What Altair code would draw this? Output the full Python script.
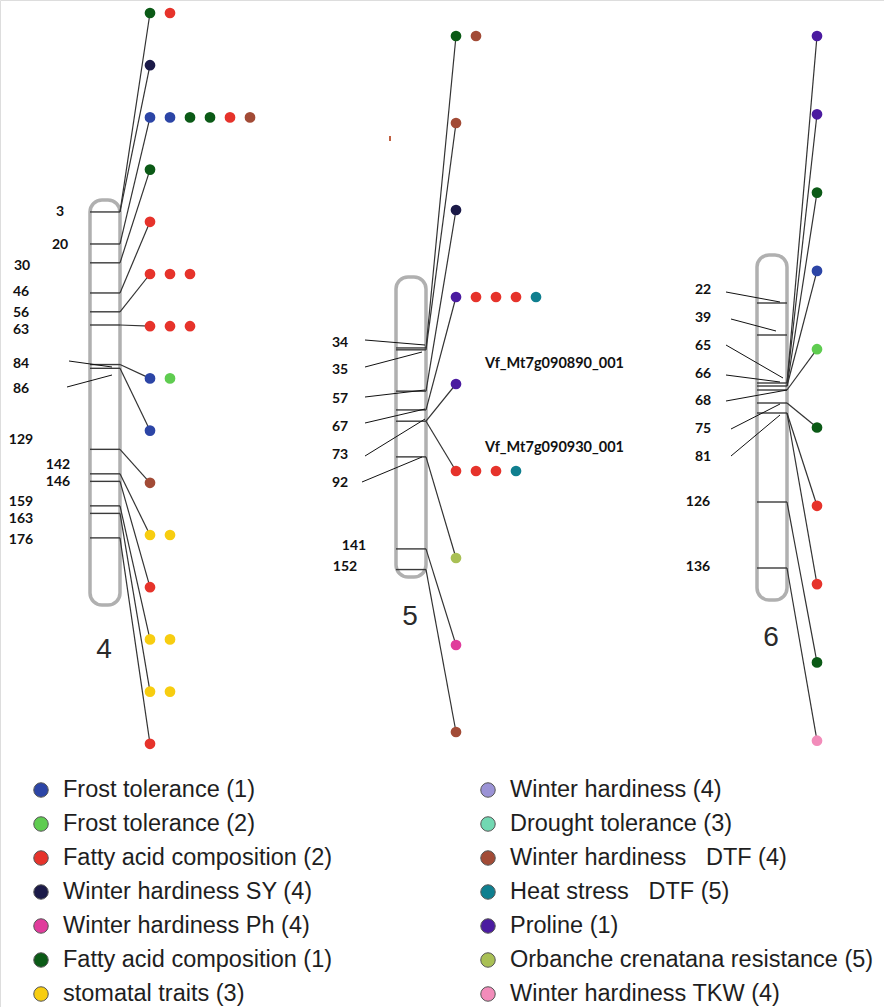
import altair as alt
import pandas as pd

W, H = 884, 1007

# ---------------- traits / colours ----------------
trait_keys = ["FT1", "FT2", "FA2", "WHSY", "WHPH", "FA1", "ST",
              "WH", "DT", "WHDTF", "HS", "PRO", "ORB", "TKW"]
trait_labels = ["Frost tolerance (1)", "Frost tolerance (2)", "Fatty acid composition (2)",
                "Winter hardiness SY (4)", "Winter hardiness Ph (4)", "Fatty acid composition (1)",
                "stomatal traits (3)",
                "Winter hardiness (4)", "Drought tolerance (3)",
                "Winter hardiness\u00a0\u00a0\u00a0DTF (4)", "Heat stress\u00a0\u00a0\u00a0DTF (5)",
                "Proline (1)", "Orbanche crenatana resistance (5)", "Winter hardiness TKW (4)"]
trait_colors = ["#2c45a6", "#5fcc50", "#e6332b", "#1b1a48", "#e03c9c", "#0b5a16", "#f7cd10",
                "#9b93d6", "#72d8b2", "#a24b36", "#0f7f8f", "#4b1ba0", "#a9c055", "#f28cba"]

# ---------------- chromosome 4 ----------------
c4_markers = [3, 20, 30, 46, 56, 63, 84, 86, 129, 142, 146, 159, 163, 176]
c4_rows = [["FA1", "FA2"], ["WHSY"], ["FT1", "FT1", "FA1", "FA1", "FA2", "WHDTF"], ["FA1"],
           ["FA2"], ["FA2", "FA2", "FA2"], ["FA2", "FA2", "FA2"], ["FT1", "FT2"], ["FT1"],
           ["WHDTF"], ["ST", "ST"], ["FA2"], ["ST", "ST"], ["ST", "ST"], ["FA2"]]
c4_row_marker = [3, 3, 20, 30, 46, 56, 63, 84, 86, 129, 142, 146, 159, 163, 176]

# ---------------- chromosome 5 ----------------
c5_markers = [34, 35, 57, 67, 73, 92, 141, 152]
c5_rows = [["FA1", "WHDTF"], ["WHDTF"], ["WHSY"], ["PRO", "FA2", "FA2", "FA2", "HS"], ["PRO"],
           ["FA2", "FA2", "FA2", "HS"], ["ORB"], ["WHPH"], ["WHDTF"]]
c5_row_marker = [34, 35, 57, 67, 73, 73, 92, 141, 152]

# ---------------- chromosome 6 ----------------
c6_markers = [22, 39, 65, 66, 68, 75, 81, 126, 136]
c6_draw = [303, 335, 383, 386, 390, 403, 413, 502, 568]   # drawn (non-linear) positions
c6_rows = [["PRO"], ["PRO"], ["FA1"], ["FT1"], ["FT2"], ["FA1"], ["FA2"], ["FA2"], ["FA1"], ["TKW"]]
c6_row_marker = [65, 65, 66, 66, 68, 75, 81, 81, 126, 136]

gene_names = ["Vf_Mt7g090890_001", "Vf_Mt7g090930_001"]

# ---------------- layout ----------------
chroms = {
    "4": dict(xl=90, xr=120, top=200, bot=605, y0=206.3, k=1.884, dotx=150, row0=13, dr=52.2,
              num=(104, 650)),
    "5": dict(xl=396, xr=426, top=277, bot=577, y0=284.1, k=1.878, dotx=456, row0=36, dr=87.0,
              num=(410, 617)),
    "6": dict(xl=757, xr=787, top=255, bot=600, dotx=817, row0=36, dr=78.3, num=(771, 638)),
}
DOT_STEP = 20


def ypos(ch, cm):
    if ch == "6":
        return c6_draw[c6_markers.index(cm)]
    c = chroms[ch]
    return c["y0"] + cm * c["k"]


label_pos = {
    "4": {3: (60, 212), 20: (60, 245), 30: (22, 266), 46: (21, 292), 56: (21, 313), 63: (21, 330),
          84: (21, 364), 86: (21, 389), 129: (21, 440), 142: (58, 465), 146: (58, 482),
          159: (21, 502), 163: (21, 519), 176: (21, 540)},
    "5": {34: (340, 343), 35: (340, 370), 57: (340, 399), 67: (340, 427), 73: (340, 455),
          92: (340, 483), 141: (354, 546), 152: (345, 567)},
    "6": {22: (703, 290), 39: (703, 318), 65: (703, 346), 66: (703, 374), 68: (703, 401),
          75: (703, 429), 81: (703, 457), 126: (698, 502), 136: (698, 567)},
}
leaders = [
    (69, 361, 112, 367), (67, 387, 112, 375),
    (365, 340, 425, 345), (365, 367, 422, 352), (365, 397, 425, 390), (365, 423, 425, 409),
    (365, 456, 425, 419), (362, 482, 422, 457),
    (726, 292, 780, 302), (731, 319, 776, 331), (726, 345, 783, 378), (726, 375, 780, 382),
    (726, 401, 787, 390), (731, 429, 780, 404), (731, 456, 780, 415),
]
gene_pos = [(485, 364), (485, 448)]

# ---------------- build tables ----------------
all_markers = {"4": c4_markers, "5": c5_markers, "6": c6_markers}
all_rows = {"4": (c4_rows, c4_row_marker), "5": (c5_rows, c5_row_marker), "6": (c6_rows, c6_row_marker)}

chrom_rows, mline_rows, conn_rows, dot_rows, lab_rows, num_rows = [], [], [], [], [], []
for ch, c in chroms.items():
    chrom_rows.append(dict(x1=c["xl"], x2=c["xr"], y1=c["top"], y2=c["bot"]))
    num_rows.append(dict(x=c["num"][0], y=c["num"][1], t=ch))
    for m in all_markers[ch]:
        y = ypos(ch, m)
        mline_rows.append(dict(x1=c["xl"], x2=c["xr"], y=y))
        lx, ly = label_pos[ch][m]
        lab_rows.append(dict(x=lx, y=ly, t=str(m)))
    rows, rmark = all_rows[ch]
    for i, (traits, m) in enumerate(zip(rows, rmark)):
        ry = c["row0"] + i * c["dr"]
        conn_rows.append(dict(x1=c["xr"], y1=ypos(ch, m), x2=c["dotx"], y2=ry))
        for j, t in enumerate(traits):
            dot_rows.append(dict(x=c["dotx"] + j * DOT_STEP, y=ry, trait=t))

chrom_df = pd.DataFrame(chrom_rows)
mline_df = pd.DataFrame(mline_rows)
conn_df = pd.DataFrame(conn_rows)
dot_df = pd.DataFrame(dot_rows)
lab_df = pd.DataFrame(lab_rows)
num_df = pd.DataFrame(num_rows)
lead_df = pd.DataFrame(leaders, columns=["x1", "y1", "x2", "y2"])
gene_df = pd.DataFrame(dict(x=[p[0] for p in gene_pos], y=[p[1] for p in gene_pos], t=gene_names))
stray_df = pd.DataFrame(dict(x1=[390], y1=[136], x2=[390], y2=[141]))

# legend
leg_rows = []
for i, (k, lab) in enumerate(zip(trait_keys, trait_labels)):
    col, r = divmod(i, 7)
    cx = 41 if col == 0 else 488
    leg_rows.append(dict(cx=cx, tx=cx + 22, y=790 + r * 34, trait=k, t=lab))
leg_df = pd.DataFrame(leg_rows)

X = alt.Scale(domain=[0, W], nice=False, zero=False)
Y = alt.Scale(domain=[0, H], nice=False, zero=False, reverse=True)
col_scale = alt.Scale(domain=trait_keys, range=trait_colors)


def xq(f):
    return alt.X(f, type="quantitative", scale=X, axis=None)


def yq(f):
    return alt.Y(f, type="quantitative", scale=Y, axis=None)


chrom_layer = alt.Chart(chrom_df).mark_rect(
    cornerRadius=12, fill="white", stroke="#b0b0b0", strokeWidth=3.5
).encode(x=xq("x1"), x2="x2:Q", y=yq("y1"), y2="y2:Q")

mline_layer = alt.Chart(mline_df).mark_rule(color="#3a3a3a", strokeWidth=1.4).encode(
    x=xq("x1"), x2="x2:Q", y=yq("y"))

conn_layer = alt.Chart(conn_df).mark_rule(color="#333333", strokeWidth=1.2).encode(
    x=xq("x1"), y=yq("y1"), x2="x2:Q", y2="y2:Q")

lead_layer = alt.Chart(lead_df).mark_rule(color="#111111", strokeWidth=1).encode(
    x=xq("x1"), y=yq("y1"), x2="x2:Q", y2="y2:Q")

stray_layer = alt.Chart(stray_df).mark_rule(color="#c06040", strokeWidth=2).encode(
    x=xq("x1"), y=yq("y1"), x2="x2:Q", y2="y2:Q")

dot_layer = alt.Chart(dot_df).mark_circle(size=115, opacity=1).encode(
    x=xq("x"), y=yq("y"), color=alt.Color("trait:N", scale=col_scale, legend=None))

lab_layer = alt.Chart(lab_df).mark_text(
    font="Lato", fontWeight="bold", fontSize=14, align="center", baseline="middle", color="#111"
).encode(x=xq("x"), y=yq("y"), text="t:N")

gene_layer = alt.Chart(gene_df).mark_text(
    font="Lato", fontWeight="bold", fontSize=14.5, align="left", baseline="middle", color="#111"
).encode(x=xq("x"), y=yq("y"), text="t:N")

num_layer = alt.Chart(num_df).mark_text(
    font="Liberation Sans", fontSize=28, align="center", baseline="middle", color="#2a2a2a"
).encode(x=xq("x"), y=yq("y"), text="t:N")

leg_dot = alt.Chart(leg_df).mark_point(
    shape="circle", filled=True, size=210, opacity=1, stroke="#555555", strokeWidth=1
).encode(x=xq("cx"), y=yq("y"), fill=alt.Fill("trait:N", scale=col_scale, legend=None))

leg_text = alt.Chart(leg_df).mark_text(
    font="Liberation Sans", fontSize=23.5, align="left", baseline="middle", color="#1e1e1e"
).encode(x=xq("tx"), y=yq("y"), text="t:N")

chart = alt.layer(
    chrom_layer, mline_layer, lead_layer, conn_layer, stray_layer, dot_layer,
    lab_layer, gene_layer, num_layer, leg_dot, leg_text
).properties(
    width=W, height=H, autosize=alt.AutoSizeParams(type="none"), padding=0
).configure_view(stroke=None).configure(background="white")

chart.save("out.html", embed_options={"renderer": "svg", "actions": False})
